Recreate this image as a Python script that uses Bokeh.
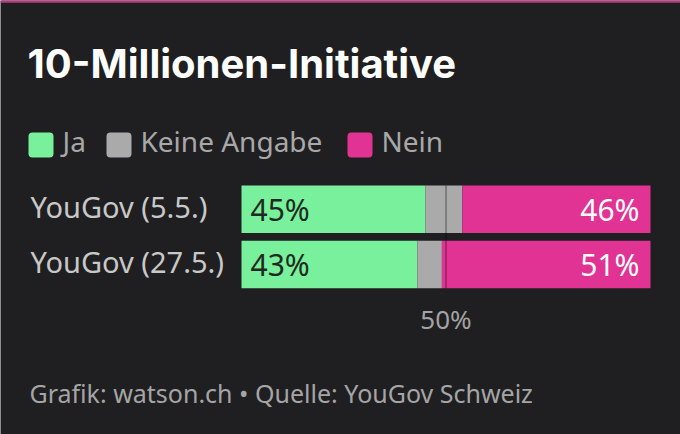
from bokeh.plotting import figure
from bokeh.models import Range1d
from bokeh.core.properties import value
from bokeh.embed import file_html
from bokeh.resources import INLINE

# ---------------- data ----------------
title = "10-Millionen-Initiative"
categories = ["YouGov (5.5.)", "YouGov (27.5.)"]
series_names = ["Ja", "Keine Angabe", "Nein"]
ja = [45, 43]
keine = [9, 6]
nein = [46, 51]
ja_labels = ["45%", "43%"]
nein_labels = ["46%", "51%"]
midpoint = 50
midpoint_label = "50%"
footer = "Grafik: watson.ch \u2022 Quelle: YouGov Schweiz"

# ---------------- style / layout ----------------
BG = "#1f1f21"
COLORS = ["#78f09c", "#aaaaaa", "#e03393"]
BODY_FONT = "Noto Sans"
TITLE_FONT = "Inter"

W, H = 680, 434
ZERO_PX = 241           # page x of 0 %
PX_PER_PCT = 4.09
ROW0_PX = 208.75        # page y of first bar centre
ROW_PX = 55.25          # page px between bar centres
BAR_PX = 47.5
K = 0.43                # baseline correction (fraction of font size)


def X(px):
    return (px - ZERO_PX) / PX_PER_PCT


def Y(py):
    return (py - ROW0_PX) / ROW_PX


def B(py, size):
    """data y for a wanted alphabetic baseline at page y"""
    return Y(py - K * size)


p = figure(width=W, height=H, output_backend="svg", toolbar_location=None,
           x_range=Range1d(X(0), X(W)),
           y_range=Range1d(Y(H), Y(0)),
           x_axis_location=None, y_axis_location=None,
           min_border=0)
p.grid.visible = False
p.outline_line_color = None
p.background_fill_color = BG
p.border_fill_color = BG

# top accent line
p.segment(x0=[X(0)], y0=[Y(1)], x1=[X(W)], y1=[Y(1)],
          line_color="#b8387f", line_width=2.5)

rows = list(range(len(categories)))
bar_h = BAR_PX / ROW_PX

# stacked bars
left = [0] * len(rows)
for vals, col in zip([ja, keine, nein], COLORS):
    right = [l + v for l, v in zip(left, vals)]
    p.hbar(y=rows, left=left, right=right, height=bar_h,
           fill_color=col, line_color=None)
    left = right

# 50% line
p.segment(x0=[midpoint], y0=[rows[0] - bar_h / 2], x1=[midpoint],
          y1=[rows[-1] + bar_h / 2], line_color="#000000",
          line_alpha=0.35, line_width=1.5)
S50 = 26
p.text(x=[midpoint], y=[B(330, S50)], text=[midpoint_label],
       text_font=value(BODY_FONT), text_font_size=f"{S50}px",
       text_color="#a3a3a3", text_align="center",
       text_baseline="alphabetic")

# value labels
SV = 30
val_y = [B(ROW0_PX + r * ROW_PX + 12.75, SV) for r in rows]
p.text(x=[X(250)] * len(rows), y=val_y, text=ja_labels,
       text_font=value(BODY_FONT), text_font_size=f"{SV}px",
       text_color="#1f2a22", text_align="left", text_baseline="alphabetic")
p.text(x=[X(639)] * len(rows), y=val_y, text=nein_labels,
       text_font=value(BODY_FONT), text_font_size=f"{SV}px",
       text_color="#ffffff", text_align="right", text_baseline="alphabetic")

# category labels
SC = 29
cat_y = [B(ROW0_PX + r * ROW_PX + 9.55, SC) for r in rows]
p.text(x=[X(30)] * len(rows), y=cat_y, text=categories,
       text_font=value(BODY_FONT), text_font_size=f"{SC}px",
       text_color="#c8c8c8", text_align="left", text_baseline="alphabetic")

# title
ST = 40
p.text(x=[X(27)], y=[B(80, ST)], text=[title], text_font=value(TITLE_FONT),
       text_font_size=f"{ST}px", text_font_style="bold", text_color="#ffffff",
       text_align="left", text_baseline="alphabetic")

# legend
leg_left_px = [28, 106, 347]
sq = 25
SL = 28
p.quad(left=[X(l) for l in leg_left_px], right=[X(l + sq) for l in leg_left_px],
       top=[Y(132)] * 3, bottom=[Y(132 + sq)] * 3,
       fill_color=COLORS, line_color=None, border_radius=4)
p.text(x=[X(l + sq + 9) for l in leg_left_px], y=[B(153, SL)] * 3,
       text=series_names, text_font=value(BODY_FONT), text_font_size=f"{SL}px",
       text_color="#a8a8a8", text_align="left", text_baseline="alphabetic")

# footer
SF = 25
p.text(x=[X(29)], y=[B(403, SF)], text=[footer], text_font=value(BODY_FONT),
       text_font_size=f"{SF}px", text_color="#a5a5a5", text_align="left",
       text_baseline="alphabetic")

html = file_html(p, INLINE)
open("out.html", "w").write(html)
